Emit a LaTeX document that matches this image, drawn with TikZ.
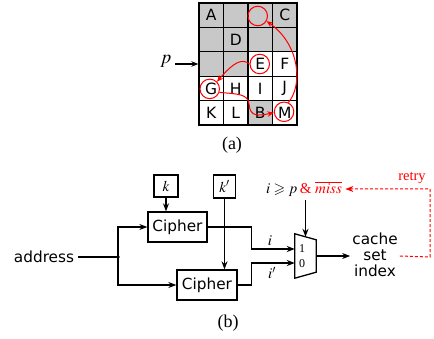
\documentclass[tikz,border=0pt]{standalone}
\usepackage{mathptmx}
\usepackage{amssymb}
\usepackage{fontspec}
\setmainfont{Liberation Serif}
\newfontfamily\dvs{DejaVu Sans}
\usetikzlibrary{arrows.meta,calc}
\definecolor{gcol}{RGB}{200,200,200}
\begin{document}
\begin{tikzpicture}[x=1pt,y=-1pt,
  cell/.style={draw, line width=1.3pt, minimum width=24.5pt, minimum height=24.4pt, inner sep=0pt, font=\dvs\fontsize{15.5}{15.5}\selectfont},
  hit/.style={circle, draw=red, line width=1pt, minimum size=19.5pt, inner sep=0pt},
  rarr/.style={red, line width=1pt, -{Stealth[length=6.5pt,width=5.5pt]}},
  sf/.style={font=\dvs\fontsize{15.3}{16}\selectfont},
  box/.style={draw, line width=1.3pt, inner sep=0pt},
  conn/.style={line width=1.2pt, -{Stealth[length=8pt,width=6pt]}},
  plain/.style={line width=1.2pt},
  rdash/.style={red, line width=1pt, dash pattern=on 3pt off 2pt},
  mt/.style={font=\fontsize{15}{15}\selectfont}
]
\useasboundingbox (0,0) rectangle (434,339);
% ---------- (a) grid ----------
\foreach \r/\c/\l/\f in {0/0/A/gcol,0/1//gcol,0/2//gcol,0/3/C/gcol,
  1/0//gcol,1/1/D/gcol,1/2//gcol,1/3//gcol,
  2/0//gcol,2/1//gcol,2/2/E/white,2/3/F/white,
  3/0/G/white,3/1/H/white,3/2/I/white,3/3/J/white,
  4/0/K/white,4/1/L/white,4/2/B/gcol,4/3/M/white}
  \node[cell, fill=\f] (g\r\c) at ({199+24.5*\c+12.25},{3+24.4*\r+12.2}) {\l};
\node[hit] (cT) at ([xshift=-2.5pt,yshift=-0.8pt]g02) {};
\node[hit] (cE) at ([xshift=-0.5pt]g22) {};
\node[hit] (cG) at ([xshift=-1.5pt,yshift=-0.5pt]g30) {};
\node[hit] (cM) at ([xshift=-0.7pt,yshift=1pt]g43) {};
\draw[rarr] (cE.west) .. controls (242,58) and (234,62) .. (cG.45);
\draw[rarr] (cG.-20) .. controls (238,94) and (248,94) .. (249,104) .. controls (250,117) and (258,116) .. (cM.185);
\draw[rarr] (cM.65) .. controls (303,85) and (300,45) .. (cT.-30);
\node[font=\fontsize{19}{19}\selectfont] (p) at (166,61) {$p$};
\draw[line width=1.1pt, -{Stealth[length=7pt,width=5.5pt]}] (p.east |- g20) -- (g20.west);
\node[font=\fontsize{18}{18}\selectfont] (la) at (232,145) {(a)};
% ---------- (b) ----------
\node[sf, inner sep=3.5pt] (addr) at (44,257) {address};
\coordinate (jn) at (118,257);
\node[box, sf, minimum width=59pt, minimum height=30pt] (c1) at (177.5,227) {Cipher};
\node[box, sf, minimum width=60pt, minimum height=30pt] (c2) at (207,285) {Cipher};
\node[box, mt, minimum width=24pt, minimum height=22pt] (k) at (166,186) {$k$};
\node[box, mt, minimum width=22pt, minimum height=23pt] (kp) at (224.5,186.5) {$k'$};
\draw[plain] (addr.east) -- (jn);
\fill (jn) circle (1.9pt);
\draw[conn] (jn) |- (c1.west);
\draw[conn] (jn) |- (c2.west);
\draw[conn] (k.south) -- (k.south |- c1.north);
\draw[conn] (kp.south) -- (kp.south |- c2.north);
% mux
\node[minimum width=21pt, minimum height=44pt, inner sep=0pt] (mux) at (305.5,256) {};
\draw[line width=1.3pt, line join=miter] (mux.north west) -- ([yshift=-6pt]mux.north east) -- ([yshift=6pt]mux.south east) -- (mux.south west) -- cycle;
\node[font=\fontsize{12}{12}\selectfont] (one) at (302,249) {1};
\node[font=\fontsize{12}{12}\selectfont] (zero) at (302,263.5) {0};
\draw[conn] (c1.east) -- ($(c1.east)+(44,0)$) |- ($(mux.west)+(0,-7)$);
\draw[conn] (c2.east) -- ($(c2.east)+(14,0)$) |- ($(mux.west)+(0,7)$);
\node[mt] (li) at (270,241) {$i$};
\node[mt] (lip) at (272,273) {$i'$};
\node[mt] (sel) at (304,189) {$i\geqslant p$\,\textcolor{red}{\& $\overline{miss}$}};
\draw[conn] (sel.south -| mux.north) -- ($(mux.north)+(0,3)$);
\node[sf, align=center, inner sep=2pt] (cache) at (375,255) {cache\\set\\index};
\draw[conn] (mux.east) -- (mux.east -| cache.west);
\coordinate (r1) at (430,257);
\draw[rdash, -{Stealth[length=8pt,width=6pt]}] (cache.east |- mux.east) -- (r1) -- (r1 |- sel) -- (sel.east);
\node[red, font=\fontsize{14.5}{14.5}\selectfont] (retry) at (412,178) {retry};
\node[font=\fontsize{18}{18}\selectfont] (lb) at (228,323) {(b)};
\end{tikzpicture}
\end{document}
